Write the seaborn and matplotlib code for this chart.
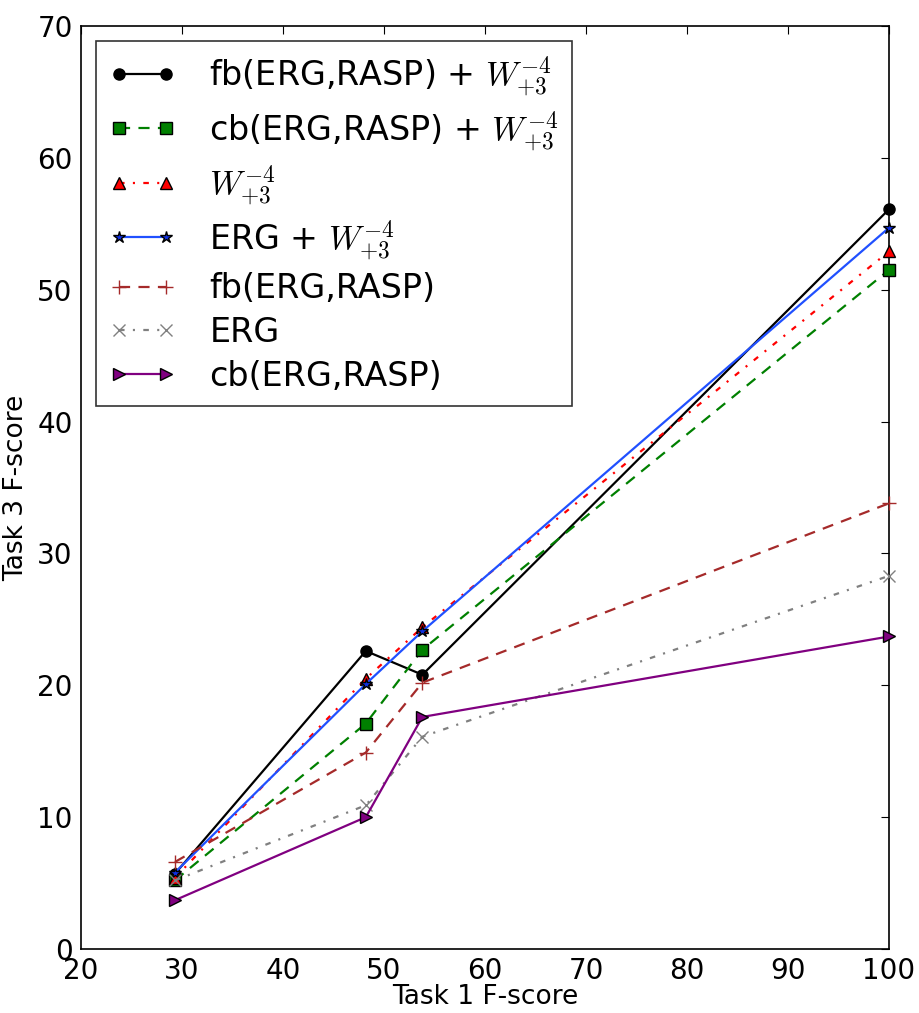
import matplotlib
matplotlib.use("Agg")
import matplotlib.pyplot as plt
import seaborn as sns
import pandas as pd

# Task 1 F-score (x) for the four runs
task1 = [29.3, 48.2, 53.8, 100.0]

# Task 3 F-score for each system
fb_w = [5.7, 22.6, 20.8, 56.1]
cb_w = [5.2, 17.1, 22.7, 51.5]
w_only = [5.4, 20.5, 24.4, 52.9]
erg_w = [5.8, 20.1, 24.1, 54.7]
fb = [6.6, 14.9, 20.2, 33.8]
erg = [5.2, 10.9, 16.1, 28.3]
cb = [3.7, 10.0, 17.6, 23.7]

W = r'$W_{+3}^{-4}$'
labels = ['fb(ERG,RASP) + ' + W, 'cb(ERG,RASP) + ' + W, W, 'ERG + ' + W,
          'fb(ERG,RASP)', 'ERG', 'cb(ERG,RASP)']
series = [fb_w, cb_w, w_only, erg_w, fb, erg, cb]

rows = []
for lab, vals in zip(labels, series):
    for x, y in zip(task1, vals):
        rows.append({'system': lab, 'task1': x, 'task3': y})
df = pd.DataFrame(rows)

sns.set_style("white")
plt.rcParams['font.family'] = ['DejaVu Sans']
plt.rcParams['mathtext.fontset'] = 'cm'
plt.rcParams['xtick.direction'] = 'in'
plt.rcParams['ytick.direction'] = 'in'
plt.rcParams['text.color'] = 'black'
plt.rcParams['axes.labelcolor'] = 'black'
plt.rcParams['xtick.color'] = 'black'
plt.rcParams['ytick.color'] = 'black'
plt.rcParams['lines.scale_dashes'] = False

dash = (8, 6)
dashdot = (4, 6, 1.5, 6)
styles = {
    labels[0]: dict(color='black', dashes=None, marker='o', ms=8, mfc='black', mec='black'),
    labels[1]: dict(color='green', dashes=dash, marker='s', ms=8, mfc='green', mec='black'),
    labels[2]: dict(color='red', dashes=dashdot, marker='^', ms=8, mfc='red', mec='black'),
    labels[3]: dict(color='#2050ff', dashes=None, marker='*', ms=9, mfc='#1030e0', mec='black'),
    labels[4]: dict(color='brown', dashes=dash, marker='+', ms=10, mfc='brown', mec='brown'),
    labels[5]: dict(color='gray', dashes=dashdot, marker='x', ms=9, mfc='gray', mec='gray'),
    labels[6]: dict(color='purple', dashes=None, marker='>', ms=8, mfc='purple', mec='black'),
}

fig = plt.figure(figsize=(9.19, 10.13), dpi=100)
ax = fig.add_axes([81 / 919, 64 / 1013, 808 / 919, 923 / 1013])

for lab in labels:
    st = styles[lab]
    sns.lineplot(data=df[df['system'] == lab], x='task1', y='task3', ax=ax,
                 color=st['color'], marker=st['marker'],
                 markersize=st['ms'], markerfacecolor=st['mfc'],
                 markeredgecolor=st['mec'], markeredgewidth=1,
                 linewidth=1.6, label=lab, clip_on=False, zorder=3)
    line = ax.get_lines()[-1]
    if st['dashes'] is not None:
        line.set_dashes(st['dashes'])

ax.set_xlim(20, 100)
ax.set_ylim(0, 70)
ax.set_xticks(range(20, 101, 10))
ax.set_yticks(range(0, 71, 10))
ax.tick_params(labelsize=20, top=True, right=True, length=6, width=0.8)
ax.tick_params(axis='x', pad=6)
ax.tick_params(axis='y', pad=6)
for sp in ax.spines.values():
    sp.set_color('black')
    sp.set_linewidth(1.2)
ax.set_xlabel('Task 1 F-score', fontsize=19, labelpad=-1)
ax.set_ylabel('Task 3 F-score', fontsize=19, labelpad=6)

leg = ax.legend(loc='upper left', fontsize=24, numpoints=2, frameon=True,
                fancybox=False, borderaxespad=0.45, handlelength=2.0,
                handletextpad=1.0, labelspacing=0.32, borderpad=0.4)
leg.get_frame().set_edgecolor('black')
leg.get_frame().set_linewidth(1.2)
for lh, lab in zip(leg.get_lines(), labels):
    st = styles[lab]
    if st['dashes'] is not None:
        lh.set_dashes(st['dashes'])

fig.savefig('out.png', dpi=100)
